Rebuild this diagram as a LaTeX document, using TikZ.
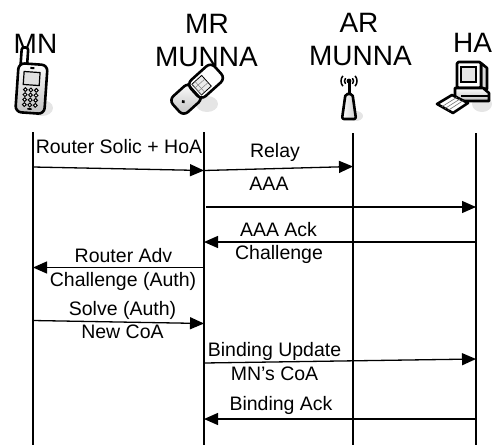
\documentclass[tikz,border=0pt]{standalone}
\usepackage{fontspec}
\setmainfont{Liberation Sans}
\usetikzlibrary{arrows.meta,calc}
\begin{document}
\begin{tikzpicture}[x=1pt,y=-1pt,
  lifeline/.style={line width=1.3pt},
  msg/.style={line width=1.3pt,-{Triangle[length=14pt,width=12pt]}},
  lbl/.style={font=\fontsize{19.5}{20}\selectfont,inner sep=0pt,anchor=base},
  hdr/.style={font=\fontsize{28}{30}\selectfont,inner sep=0pt,anchor=base},
  icon/.style={line width=2.6pt,line join=round},
  shadowc/.style={fill=black!10,draw=none}]
\useasboundingbox (0,0) rectangle (493,445);
% ---------- headers
\node[hdr] (hMN) at (35.5,53) {MN};
\node[hdr] (hMR) at (207,33) {MR};
\node[hdr] (hMR2) at (206.5,66.5) {MUNNA};
\node[hdr] (hAR) at (359,32) {AR};
\node[hdr] (hAR2) at (360.5,65) {MUNNA};
\node[hdr,anchor=base west] (hHA) at (453,52) {HA};
% ---------- MN phone icon
\fill[shadowc] (42,108) ellipse (11 and 8);
\begin{scope}[rotate around={-4:(31,88)}]
\draw[icon,fill=white,rounded corners=2.5pt] (19,48) rectangle (25.5,68);
\draw[icon,top color=white,bottom color=black!25,rounded corners=6pt] (17,64) rectangle (46,113);
\draw[line width=1.2pt,fill=black!12] (23,72) rectangle (39,85);
\fill (29,67) rectangle (33,69);
\foreach \r in {0,1,2,3}{\foreach \c in {0,1,2}{
  \draw[line width=1pt,fill=white] (25.5+\c*5.5,90+\r*5) circle (1.9);}}
\fill (31,109) ellipse (2.5 and 1);
\end{scope}
% ---------- MR flip phone icon
\fill[shadowc] (207,104) ellipse (11 and 8);
\begin{scope}[shift={(194,92)},rotate=-48,scale=1.2]
  \draw[icon,top color=white,bottom color=black!25,rounded corners=6pt] (-9,-2) rectangle (9,20);
  \fill (0,12) circle (1.6);
  \draw[icon,fill=white,rounded corners=6pt] (-9,-27) rectangle (9,0);
  \draw[line width=0.8pt,fill=black!8] (-6,-14) rectangle (6,-3);
  \foreach \i in {-10,-6.5} {\draw[line width=0.5pt,black!50] (-6,\i+3.5) -- (6,\i+3.5);}
  \foreach \j in {-2,2} {\draw[line width=0.5pt,black!50] (\j,-14) -- (\j,-3);}
  \draw[line width=1pt] (-9,-1) -- (9,-1);
\end{scope}
% ---------- AR antenna icon
\fill[shadowc] (356,116) ellipse (7 and 5);
\fill (349,81) circle (2.4);
\foreach \rr in {4.5,8}{
  \draw[line width=1.5pt] (349,81) ++(140:\rr) arc[start angle=140,end angle=220,radius=\rr];
  \draw[line width=1.5pt] (349,81) ++(40:\rr) arc[start angle=40,end angle=-40,radius=\rr];}
\draw[line width=3pt] (349,82) -- (349,96);
\draw[icon,left color=white,right color=black!20,rounded corners=2pt] (345.5,94) -- (352.5,94) -- (356,119) -- (342,119) -- cycle;
% ---------- HA computer icon
\fill[shadowc] (482,104) ellipse (10 and 8);
\draw[icon,fill=black!15] (481,63) -- (487,68) -- (487,89) -- (481,88) -- cycle;
\draw[icon,fill=white,rounded corners=1.5pt] (457,62) rectangle (481,88);
\draw[line width=1.2pt,fill=black!10] (461,67) rectangle (476,82);
\draw[icon,top color=white,bottom color=black!25] (455,88) -- (483,88) -- (489,93) -- (489,101) -- (461,101) -- (455,96) -- cycle;
\draw[line width=1.2pt] (461,96) -- (489,96);
\draw[icon,fill=white] (437,104) -- (452,95) -- (468,103) -- (453,113) -- cycle;
\foreach \t in {0.3,0.5,0.7}{\draw[line width=0.6pt,black!55] ($(437,104)!\t!(453,113)$) -- ($(452,95)!\t!(468,103)$);}
% ---------- lifelines
\coordinate (mnT) at (33,132);  \coordinate (mnB) at (33,445);
\coordinate (mrT) at (204,132); \coordinate (mrB) at (204,445);
\coordinate (arT) at (353,133); \coordinate (arB) at (353,445);
\coordinate (haT) at (476,133); \coordinate (haB) at (476,445);
\draw[lifeline] (mnT) -- (mnB);
\draw[lifeline] (mrT) -- (mrB);
\draw[lifeline] (arT) -- (arB);
\draw[lifeline] (haT) -- (haB);
% ---------- message end points
\coordinate (m1s) at (33,167);    \coordinate (m1e) at (204,170.5);
\coordinate (m2e) at (353,166.5);
\coordinate (m3s) at (206,207);   \coordinate (m3e) at (476,207);
\coordinate (m4s) at (476,242);   \coordinate (m4e) at (204,242);
\coordinate (m5s) at (204,267.5); \coordinate (m5e) at (33,267.5);
\coordinate (m6s) at (33,320.5);  \coordinate (m6e) at (204,323.5);
\coordinate (m7s) at (204,363);   \coordinate (m7e) at (476,359);
\coordinate (m8s) at (476,419);   \coordinate (m8e) at (204,419);
\draw[msg] (m1s) -- (m1e);
\draw[msg] (m1e) -- (m2e);
\draw[msg] (m3s) -- (m3e);
\draw[msg] (m4s) -- (m4e);
\draw[msg] (m5s) -- (m5e);
\draw[msg] (m6s) -- (m6e);
\draw[msg] (m7s) -- (m7e);
\draw[msg] (m8s) -- (m8e);
% ---------- labels
\node[lbl] (l1) at (119,153) {Router Solic + HoA};
\node[lbl] (l2) at (275,157) {Relay};
\node[lbl] (l3) at (269,190) {AAA};
\node[lbl] (l4) at (278.5,236) {AAA Ack};
\node[lbl] (l5) at (279,259) {Challenge};
\node[lbl] (l6) at (123.5,262.5) {Router Adv};
\node[lbl] (l7) at (123,286) {Challenge (Auth)};
\node[lbl] (l8) at (122.5,315) {Solve (Auth)};
\node[lbl] (l9) at (122.5,338) {New CoA};
\node[lbl] (l10) at (274.5,356.5) {Binding Update};
\node[lbl] (l11) at (274.5,380) {MN’s CoA};
\node[lbl] (l12) at (281,410) {Binding Ack};
\end{tikzpicture}
\end{document}
